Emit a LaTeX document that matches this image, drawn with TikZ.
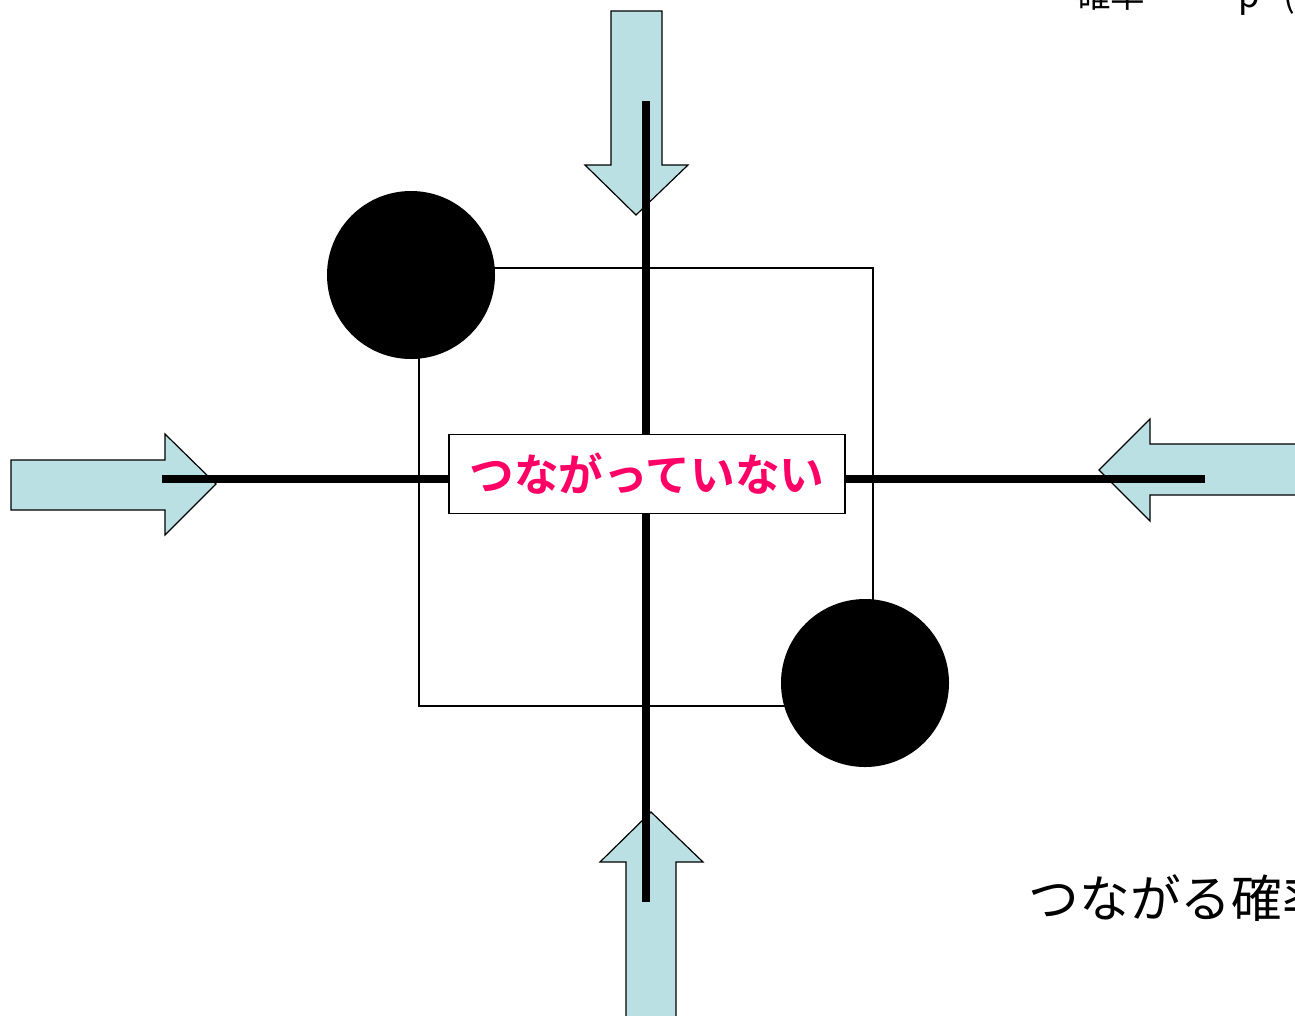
\documentclass[tikz,border=0pt]{standalone}
\usepackage{fontspec}
\newfontfamily\cjk{Noto Sans CJK JP}
\newfontfamily\cjkbold{Noto Sans CJK JP Bold}
\definecolor{arrowfill}{HTML}{BBE0E3}
\definecolor{labelpink}{HTML}{FF0066}
\begin{document}
\begin{tikzpicture}[x=0.75pt,y=-0.75pt,
  blockarrow/.style={draw=black,line width=0.9pt,fill=arrowfill,line join=miter},
  wire/.style={line width=5.4pt},
  frame/.style={draw=black,line width=0.9pt},
  dot/.style={circle,fill=black,minimum size=126pt,inner sep=0pt},
  tag/.style={draw=black,line width=0.9pt,fill=white,minimum width=297pt,minimum height=59pt,inner sep=0pt,
    font=\cjkbold\fontsize{33.5}{38}\selectfont,text=labelpink},
  caption/.style={anchor=base west,font=\cjk\fontsize{38}{44}\selectfont},
  smallcaption/.style={anchor=base west,inner sep=0pt,font=\cjk\fontsize{26}{30}\selectfont}]
\useasboundingbox (0,0) rectangle (1295,1015);
\clip (0,0) rectangle (1295,1015);

% thin square joining the two terminals
\draw[frame] (419,268) rectangle (873,706);

% block arrows pointing in from the four sides
\draw[blockarrow] (611,11) -- (662,11) -- (662,165) -- (688,165) -- (636,215) -- (585,165) -- (611,165) -- cycle;
\draw[blockarrow] (11,460) -- (165,460) -- (165,434) -- (216,484) -- (165,535) -- (165,510) -- (11,510) -- cycle;
\draw[blockarrow] (1300,444) -- (1150,444) -- (1150,419) -- (1099,470) -- (1150,521) -- (1150,495) -- (1300,495) -- cycle;
\draw[blockarrow] (626,1020) -- (626,862) -- (600,862) -- (651,812) -- (703,862) -- (676,862) -- (676,1020) -- cycle;

% crossing wires
\coordinate (vtop) at (646,101);
\coordinate (vbot) at (646,902);
\coordinate (hleft) at (162,479);
\coordinate (hright) at (1205,479);
\draw[wire] (vtop) -- (vbot);
\draw[wire] (hleft) -- (hright);

% terminals
\node[dot] (tl) at (411,275) {};
\node[dot] (br) at (865,683) {};

% label over the crossing
\node[tag] (gap) at (647,474) {つながっていない};

% side texts
\node[caption] (prob) at (1024,917) {つながる確率};
\node[smallcaption] (topnote) at (1076,7) {確率\hspace{70pt}p\hspace{17pt}(};
\end{tikzpicture}
\end{document}
